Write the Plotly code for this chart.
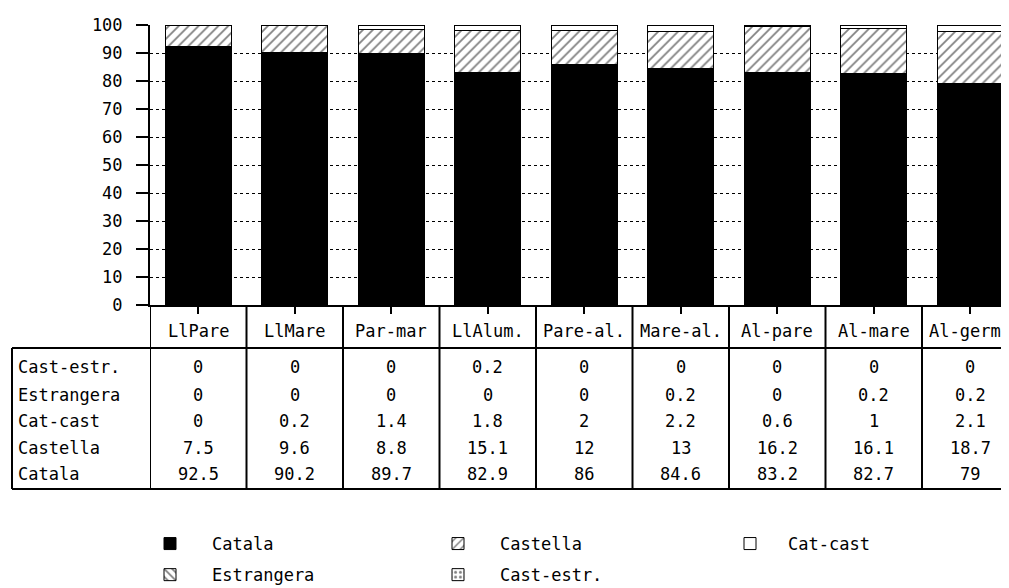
import plotly.graph_objects as go

categories = ["LlPare", "LlMare", "Par-mar", "LlAlum.", "Pare-al.",
              "Mare-al.", "Al-pare", "Al-mare", "Al-germ."]
catala = [92.5, 90.2, 89.7, 82.9, 86, 84.6, 83.2, 82.7, 79]
castella = [7.5, 9.6, 8.8, 15.1, 12, 13, 16.2, 16.1, 18.7]
cat_cast = [0, 0.2, 1.4, 1.8, 2, 2.2, 0.6, 1, 2.1]
estrangera = [0, 0, 0, 0, 0, 0.2, 0, 0.2, 0.2]
cast_estr = [0, 0, 0, 0.2, 0, 0, 0, 0, 0]
y_ticks = list(range(0, 101, 10))

FONT = "DejaVu Sans Mono"
FS = 17
x_idx = list(range(len(categories)))

# legend columns: Catala/Estrangera, Castella/Cast-estr., Cat-cast
series = [
    ("Catala", catala, dict(color="black"), "legend"),
    ("Castella", castella, dict(color="white", pattern=dict(shape="/", fgcolor="black", bgcolor="white", size=7, solidity=0.25)), "legend2"),
    ("Cat-cast", cat_cast, dict(color="white"), "legend3"),
    ("Estrangera", estrangera, dict(color="white", pattern=dict(shape="\\", fgcolor="black", bgcolor="white", size=7, solidity=0.3)), "legend"),
    ("Cast-estr.", cast_estr, dict(color="white", pattern=dict(shape=".", fgcolor="black", bgcolor="white", size=6, solidity=0.3)), "legend2"),
]

fig = go.Figure()
for name, vals, marker, lg in series:
    marker = dict(marker, line=dict(color="black", width=1))
    fig.add_trace(go.Bar(x=x_idx, y=vals, name=name, marker=marker,
                         width=0.68, legend=lg, legendgroup=name))

rows = [("Cast-estr.", cast_estr), ("Estrangera", estrangera),
        ("Cat-cast", cat_cast), ("Castella", castella), ("Catala", catala)]

# screen geometry: plot spans x 150..1009, y 25..305; one slot = 96.5 px
X0, X1, SLOT = 150, 1009, 96.5


def py(pix):
    return (305 - pix) / 280


def px(pix):
    return (pix - X0) / (X1 - X0)


txt = dict(family=FONT, size=FS, color="black")
anns = []
for i, c in enumerate(categories):
    anns.append(dict(x=i, y=py(331), xref="x", yref="paper", text=c,
                     yanchor="middle", showarrow=False, font=txt))
row_y = [367, 395, 421, 448, 474]
for (label, vals), ry in zip(rows, row_y):
    anns.append(dict(x=px(16), y=py(ry), xref="paper", yref="paper",
                     text=label, xanchor="left", yanchor="middle",
                     showarrow=False, font=txt))
    for i, v in enumerate(vals):
        anns.append(dict(x=i, y=py(ry), xref="x", yref="paper", text=f"{v:g}",
                         yanchor="middle", showarrow=False, font=txt))

shapes = []
for k in range(len(categories)):
    shapes.append(dict(type="line", xref="x", yref="paper", x0=k - 0.5, x1=k - 0.5,
                       y0=py(305), y1=py(489), line=dict(color="black", width=2)))
shapes.append(dict(type="line", xref="paper", yref="paper", x0=px(12), x1=px(12),
                   y0=py(348), y1=py(489), line=dict(color="black", width=2)))
for hy in (348, 489):
    shapes.append(dict(type="line", xref="paper", yref="paper", x0=px(12), x1=1,
                       y0=py(hy), y1=py(hy), line=dict(color="black", width=2)))

leg_common = dict(orientation="v", yanchor="top", xanchor="left",
                  traceorder="grouped", tracegroupgap=6, font=txt)

# page body adds an 8px offset, so margins are shifted by 8
fig.update_layout(
    width=1009, height=588,
    margin=dict(l=X0 - 8, r=8, t=17, b=291, autoexpand=False),
    barmode="stack",
    plot_bgcolor="white", paper_bgcolor="white",
    font=txt,
    annotations=anns, shapes=shapes,
    legend=dict(leg_common, x=px(128), y=py(526), itemwidth=74),
    legend2=dict(leg_common, x=px(416), y=py(526), itemwidth=74),
    legend3=dict(leg_common, x=px(712), y=py(526), itemwidth=66),
)
fig.update_xaxes(range=[-0.5, -0.5 + (X1 - X0) / SLOT], showgrid=False,
                 showticklabels=False, ticks="outside", ticklen=7, tickcolor="black",
                 tickwidth=1.5, tickvals=x_idx, showline=True, linecolor="black",
                 linewidth=2, zeroline=False)
fig.update_yaxes(range=[0, 100], tickvals=y_ticks, ticks="outside", ticklen=12,
                 tickcolor="black", tickwidth=2, showline=True, linecolor="black",
                 linewidth=2, showgrid=True, gridcolor="black", griddash="dot",
                 gridwidth=1, zeroline=False, ticklabelstandoff=10,
                 tickfont=txt)

fig.write_html("out.html")
